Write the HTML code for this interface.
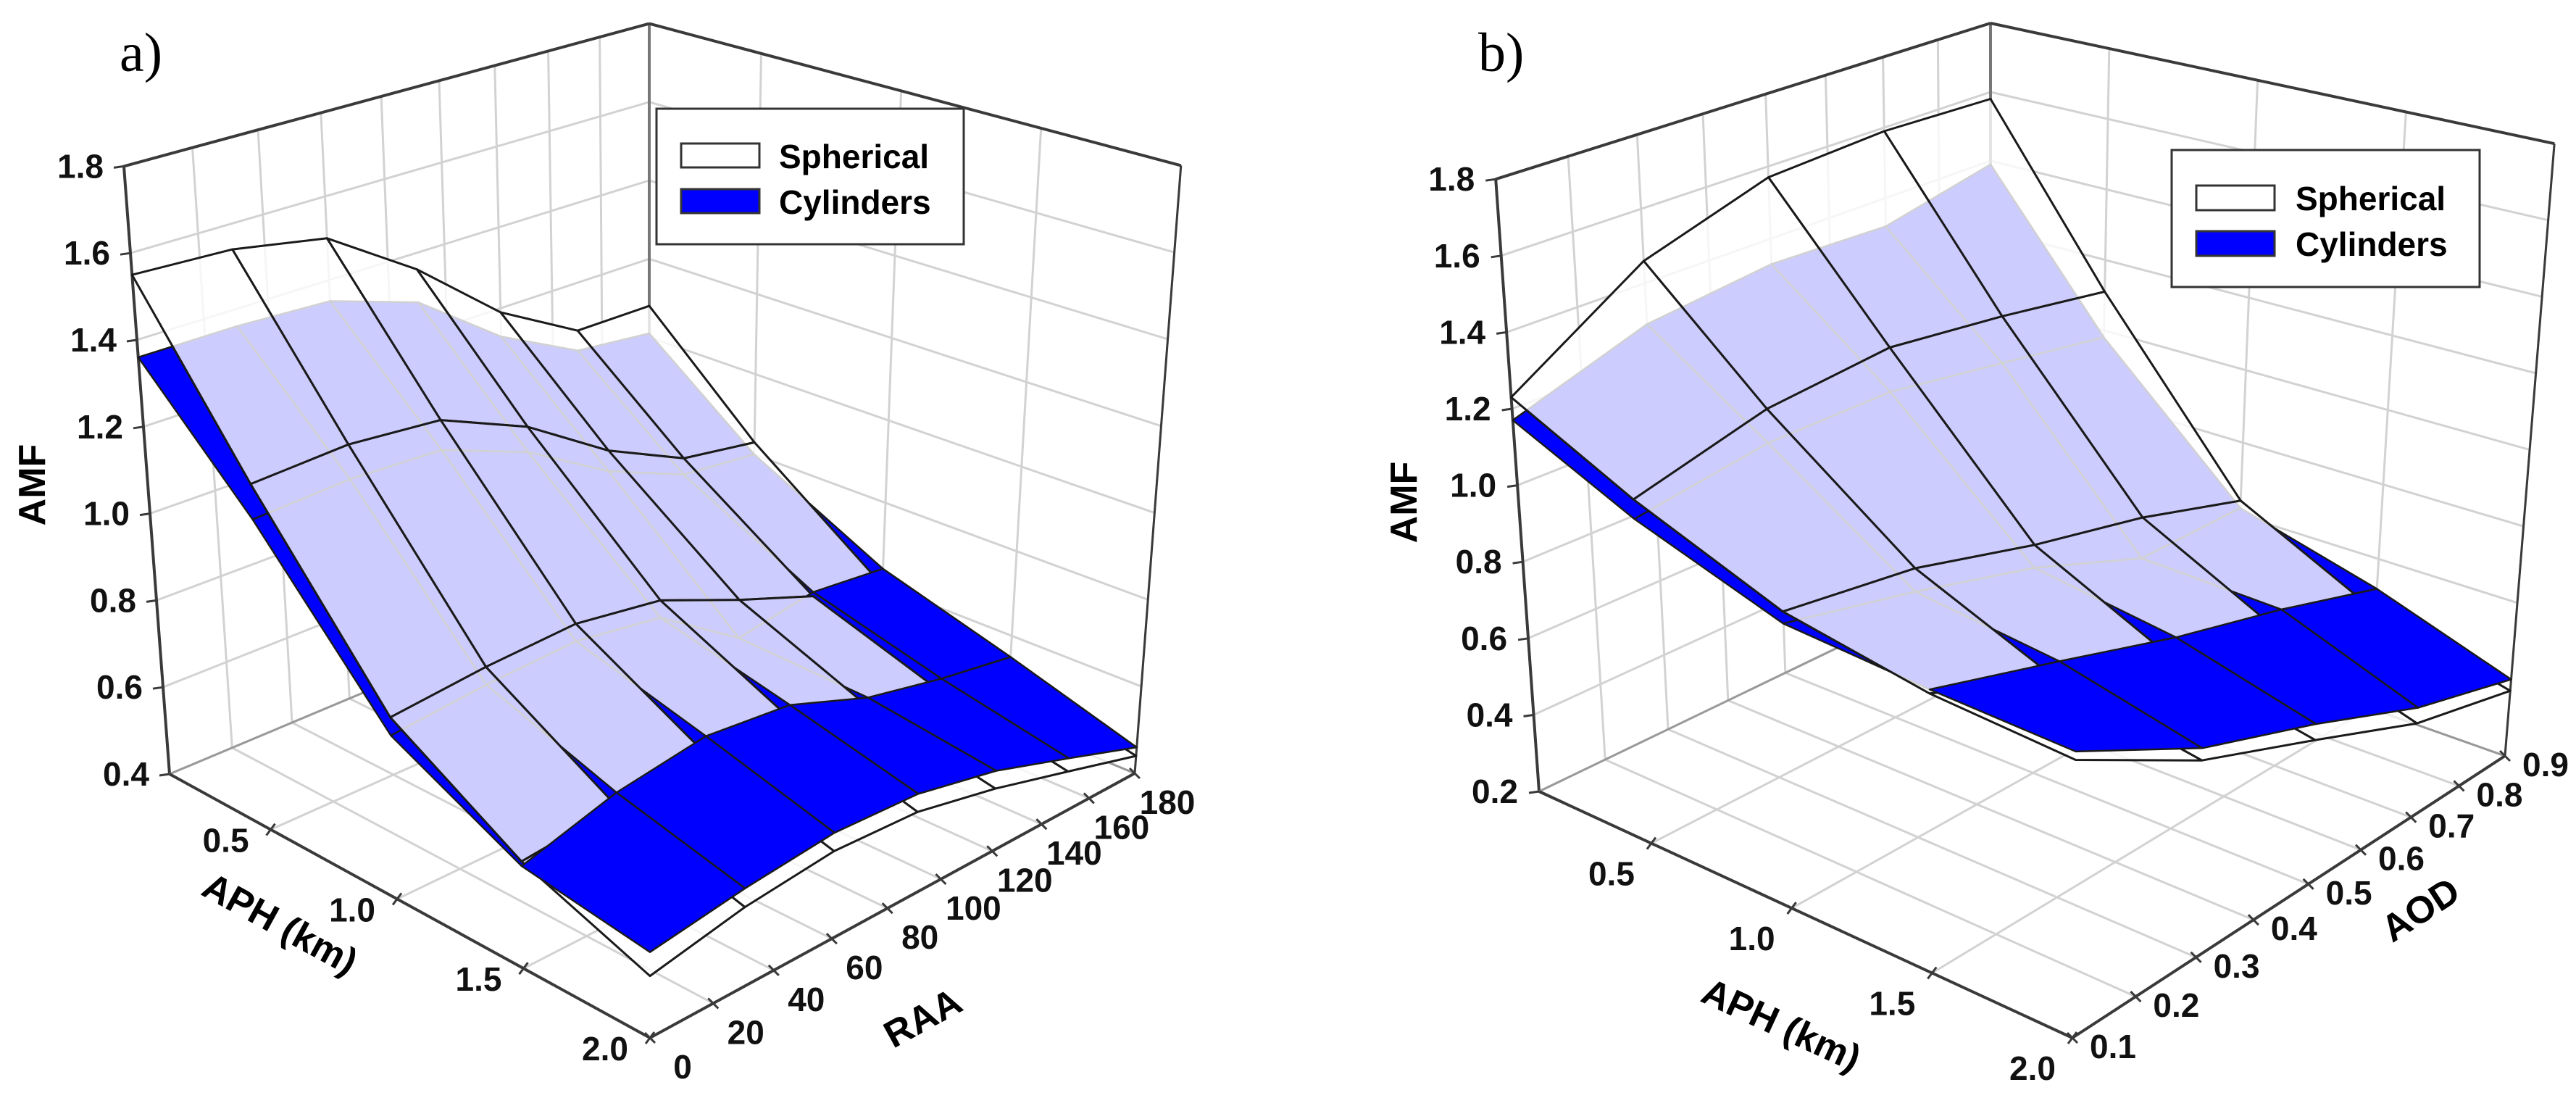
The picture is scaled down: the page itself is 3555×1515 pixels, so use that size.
<!DOCTYPE html>
<html><head><meta charset="utf-8"><title>AMF surfaces</title>
<style>
html,body{margin:0;padding:0;background:#fff;}
svg{display:block;}
text{font-family:"Liberation Sans",Arial,sans-serif;}
</style></head>
<body>
<svg id="chart" xmlns="http://www.w3.org/2000/svg" width="3555" height="1515" viewBox="0 0 3555 1515">
<rect x="0" y="0" width="3555" height="1515" fill="#fff"/>
<g id="layerA"></g>
<g id="layerB"></g>

<text x="165" y="98" style="font-family:'Liberation Serif',serif" font-size="76">a)</text>
<text x="2040" y="98" style="font-family:'Liberation Serif',serif" font-size="76">b)</text>

<text transform="translate(62,669) rotate(-90)" text-anchor="middle" font-size="52" font-weight="bold">AMF</text>
<text transform="translate(378,1290) rotate(28.8)" text-anchor="middle" font-size="52" font-weight="bold">APH (km)</text>
<text transform="translate(1282,1420) rotate(-28.8)" text-anchor="middle" font-size="52" font-weight="bold">RAA</text>

<text transform="translate(1955,693) rotate(-90)" text-anchor="middle" font-size="52" font-weight="bold">AMF</text>
<text transform="translate(2451,1430) rotate(24.8)" text-anchor="middle" font-size="52" font-weight="bold">APH (km)</text>
<text transform="translate(3350,1270) rotate(-33)" text-anchor="middle" font-size="52" font-weight="bold">AOD</text>

<g>
<rect x="906" y="150" width="424" height="187" fill="#fff" stroke="#333" stroke-width="3"/>
<rect x="940" y="198" width="108" height="33" fill="#fff" stroke="#333" stroke-width="3"/>
<text x="1075" y="232" font-size="46" font-weight="bold">Spherical</text>
<rect x="940" y="261" width="108" height="33" fill="#0000ff" stroke="#333" stroke-width="3"/>
<text x="1075" y="295" font-size="46" font-weight="bold">Cylinders</text>
</g>
<g>
<rect x="2997" y="207" width="425" height="189" fill="#fff" stroke="#333" stroke-width="3"/>
<rect x="3031" y="256" width="108" height="34" fill="#fff" stroke="#333" stroke-width="3"/>
<text x="3168" y="290" font-size="46" font-weight="bold">Spherical</text>
<rect x="3031" y="319" width="108" height="34" fill="#0000ff" stroke="#333" stroke-width="3"/>
<text x="3168" y="353" font-size="46" font-weight="bold">Cylinders</text>
</g>
</svg>
<script>
// ---- Panel a data ----
const aphA = [0.1, 0.5, 1.0, 1.5, 2.0];
const raaA = [0, 30, 60, 90, 120, 150, 180];
const sphA = [
  [1.55, 1.54, 1.50, 1.36, 1.19, 1.08, 1.08],
  [1.18, 1.19, 1.17, 1.08, 0.95, 0.86, 0.83],
  [0.80, 0.82, 0.83, 0.80, 0.72, 0.65, 0.60],
  [0.63, 0.65, 0.67, 0.66, 0.60, 0.55, 0.51],
  [0.53, 0.57, 0.59, 0.58, 0.54, 0.49, 0.44]
];
const cylA = [
  [1.36, 1.36, 1.35, 1.28, 1.13, 1.03, 1.01],
  [1.10, 1.11, 1.10, 1.02, 0.90, 0.82, 0.80],
  [0.76, 0.78, 0.79, 0.76, 0.63, 0.66, 0.64],
  [0.62, 0.68, 0.71, 0.69, 0.62, 0.58, 0.55],
  [0.58, 0.61, 0.63, 0.62, 0.58, 0.52, 0.46]
];
const zTicksA = [0.4, 0.6, 0.8, 1.0, 1.2, 1.4, 1.6, 1.8];
const aphTicksA = [0.5, 1.0, 1.5, 2.0];
const raaTicksA = [0, 20, 40, 60, 80, 100, 120, 140, 160, 180];

// ---- Panel b data ----
const aphB = [0.1, 0.5, 1.0, 1.5, 2.0];
const aodB = [0.1, 0.3, 0.5, 0.7, 0.9];
const sphB = [
  [1.23, 1.46, 1.57, 1.59, 1.58],
  [1.08, 1.17, 1.20, 1.16, 1.11],
  [0.94, 0.89, 0.80, 0.73, 0.64],
  [0.88, 0.74, 0.63, 0.55, 0.46],
  [0.86, 0.68, 0.56, 0.44, 0.37]
];
const cylB = [
  [1.17, 1.29, 1.33, 1.32, 1.39],
  [1.03, 1.08, 1.08, 1.03, 0.98],
  [0.91, 0.83, 0.74, 0.62, 0.62],
  [0.89, 0.79, 0.69, 0.61, 0.52],
  [0.88, 0.71, 0.60, 0.48, 0.40]
];
const zTicksB = [0.2, 0.4, 0.6, 0.8, 1.0, 1.2, 1.4, 1.6, 1.8];
const aphTicksB = [0.5, 1.0, 1.5, 2.0];
const aodTicksB = [0.1, 0.2, 0.3, 0.4, 0.5, 0.6, 0.7, 0.8, 0.9];

const NS = 'http://www.w3.org/2000/svg';
function mk(tag, attrs, parent) {
  const e = document.createElementNS(NS, tag);
  for (const k in attrs) e.setAttribute(k, attrs[k]);
  parent.appendChild(e);
  return e;
}

function drawPanel(layer, cfg, rows, cols, sph, cyl, zTicks, rowTicks, colTicks, colFmt, prefix) {
  function g(t, p) { return t * (1 + p) / (1 + p * t); }
  function proj(aph, w, z) {
    const u = (aph - cfg.uMin) / (cfg.uMax - cfg.uMin);
    const v = g((w - cfg.vMin) / (cfg.vMax - cfg.vMin), cfg.p);
    const L = cfg.L, F = cfg.F, R = cfg.R, B = cfg.B;
    const px = (1-u)*(1-v)*L[0] + u*(1-v)*F[0] + u*v*R[0] + (1-u)*v*B[0];
    const py = (1-u)*(1-v)*L[1] + u*(1-v)*F[1] + u*v*R[1] + (1-u)*v*B[1];
    const d = (u + 1 - v) / 2;
    const h = cfg.hB + (cfg.hF - cfg.hB) * d;
    const dz = z - cfg.zMin;
    return { x: cfg.cx + (px - cfg.cx) * (1 + cfg.k * dz), y: py - dz * h, d: d };
  }
  function line(a, b, stroke, sw, name) {
    const e = mk('line', { x1: a.x, y1: a.y, x2: b.x, y2: b.y, stroke: stroke, 'stroke-width': sw }, layer);
    
    
  }
  const uMin = cfg.uMin, uMax = cfg.uMax, vMin = cfg.vMin, vMax = cfg.vMax, zMin = cfg.zMin, zMax = cfg.zMax;
  const grid = '#d2d2d2';
  colTicks.forEach(w => line(proj(uMin, w, zMin), proj(uMin, w, zMax), grid, 3, prefix + '-wall-gridline'));
  zTicks.forEach(z => line(proj(uMin, vMin, z), proj(uMin, vMax, z), grid, 3, prefix + '-wall-gridline'));
  rowTicks.forEach(a => line(proj(a, vMax, zMin), proj(a, vMax, zMax), grid, 3, prefix + '-wall-gridline'));
  zTicks.forEach(z => line(proj(uMin, vMax, z), proj(uMax, vMax, z), grid, 3, prefix + '-wall-gridline'));
  colTicks.forEach(w => line(proj(uMin, w, zMin), proj(uMax, w, zMin), grid, 3, prefix + '-floor-gridline'));
  rowTicks.forEach(a => line(proj(a, vMin, zMin), proj(a, vMax, zMin), grid, 3, prefix + '-floor-gridline'));
  const ed = '#3a3a3a';
  line(proj(uMin, vMin, zMin), proj(uMin, vMin, zMax), ed, 4, prefix + '-z-axis');
  line(proj(uMin, vMax, zMin), proj(uMin, vMax, zMax), '#777', 4, prefix + '-back-edge');
  line(proj(uMax, vMax, zMin), proj(uMax, vMax, zMax), ed, 3, prefix + '-right-edge');
  line(proj(uMin, vMin, zMax), proj(uMin, vMax, zMax), ed, 4, prefix + '-top-edge');
  line(proj(uMin, vMax, zMax), proj(uMax, vMax, zMax), ed, 4, prefix + '-top-edge');
  line(proj(uMin, vMin, zMin), proj(uMin, vMax, zMin), '#999', 3, prefix + '-floor-edge');
  line(proj(uMin, vMax, zMin), proj(uMax, vMax, zMin), '#999', 3, prefix + '-floor-edge');
  line(proj(uMin, vMin, zMin), proj(uMax, vMin, zMin), ed, 4, prefix + '-aph-axis');
  line(proj(uMax, vMin, zMin), proj(uMax, vMax, zMin), ed, 4, prefix + '-col-axis');

  const cells = [];
  for (let i = 0; i < rows.length - 1; i++) {
    for (let j = 0; j < cols.length - 1; j++) {
      const idx = [[i, j], [i, j+1], [i+1, j+1], [i+1, j]];
      const sp = idx.map(q => proj(rows[q[0]], cols[q[1]], sph[q[0]][q[1]]));
      const cp = idx.map(q => proj(rows[q[0]], cols[q[1]], cyl[q[0]][q[1]]));
      const sAvg = idx.reduce((s, q) => s + sph[q[0]][q[1]], 0) / 4;
      const cAvg = idx.reduce((s, q) => s + cyl[q[0]][q[1]], 0) / 4;
      const depth = sp.reduce((s, p) => s + p.d, 0) / 4;
      cells.push({ sp, cp, sAvg, cAvg, depth, i, j });
    }
  }
  cells.sort((a, b) => a.depth - b.depth);
  const pts = arr => arr.map(p => p.x.toFixed(1) + ',' + p.y.toFixed(1)).join(' ');
  cells.forEach(c => {
    const drawCyl = () => {
      const e = mk('polygon', { points: pts(c.cp), fill: '#0000ff', stroke: '#1a1a1a', 'stroke-width': 2.5, 'stroke-linejoin': 'round' }, layer);
      
      
    };
    const drawSph = () => {
      const e = mk('polygon', { points: pts(c.sp), fill: '#ffffff', 'fill-opacity': 0.8, stroke: '#1a1a1a', 'stroke-width': 3, 'stroke-linejoin': 'round' }, layer);
      
      
    };
    if (c.cAvg > c.sAvg) { drawSph(); drawCyl(); } else { drawCyl(); drawSph(); }
  });

  zTicks.forEach(z => {
    const p = proj(uMin, vMin, z);
    line(p, { x: p.x - 14, y: p.y + 2 }, ed, 3, prefix + '-z-tick');
    const t = mk('text', { x: p.x + cfg.zOff, y: p.y + 16, 'text-anchor': 'end', 'font-size': 46, 'font-weight': 'bold', fill: '#111' }, layer);
    
    
    t.textContent = z.toFixed(1);
  });
  rowTicks.forEach(a => {
    const p = proj(a, vMin, zMin);
    line({ x: p.x - 6, y: p.y + 8 }, { x: p.x + 6, y: p.y - 8 }, ed, 3, prefix + '-aph-tick');
    const t = mk('text', { x: p.x + cfg.aphOff[0], y: p.y + cfg.aphOff[1] + 16, 'text-anchor': 'middle', 'font-size': 46, 'font-weight': 'bold', fill: '#111' }, layer);
    
    
    t.textContent = a.toFixed(1);
  });
  colTicks.forEach(w => {
    const p = proj(uMax, w, zMin);
    line({ x: p.x - 7, y: p.y - 7 }, { x: p.x + 7, y: p.y + 7 }, ed, 3, prefix + '-col-tick');
    const t = mk('text', { x: p.x + cfg.colOff[0], y: p.y + cfg.colOff[1] + 16, 'text-anchor': 'middle', 'font-size': 46, 'font-weight': 'bold', fill: '#111' }, layer);
    
    
    t.textContent = colFmt(w);
  });
}

const cfgA = { L: [234, 1068], F: [897, 1432], R: [1566, 1067], B: [896, 790], hB: 541, hF: 657, cx: 896, k: 0.068, p: 0.2,
  zMin: 0.4, zMax: 1.8, uMin: 0.1, uMax: 2.0, vMin: 0, vMax: 180, aphOff: [-62, 15], colOff: [45, 40], zOff: -28 };
const cfgB = { L: [2124, 1092], F: [2860, 1432], R: [3457, 1043], B: [2747, 792], hB: 475, hF: 581, cx: 2747, k: 0.06, p: 0.2,
  zMin: 0.2, zMax: 1.8, uMin: 0.1, uMax: 2.0, vMin: 0.1, vMax: 0.9, aphOff: [-55, 42], colOff: [56, 12], zOff: -29 };

drawPanel(document.getElementById('layerA'), cfgA, aphA, raaA, sphA, cylA, zTicksA, aphTicksA, raaTicksA, w => String(w), 'panel-a');
drawPanel(document.getElementById('layerB'), cfgB, aphB, aodB, sphB, cylB, zTicksB, aphTicksB, aodTicksB, w => w.toFixed(1), 'panel-b');
</script>
</body></html>
